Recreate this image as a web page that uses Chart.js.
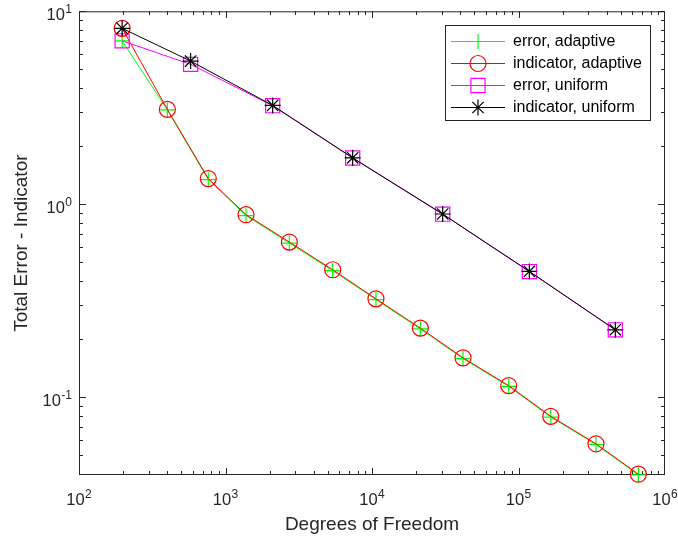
<!DOCTYPE html>
<html>
<head>
<meta charset="utf-8">
<script src="https://cdn.jsdelivr.net/npm/chart.js@4/dist/chart.umd.min.js"></script>
<style>
  body { margin: 0; background: #fff; }
  #wrap { width: 678px; height: 542px; }
</style>
</head>
<body>
<div id="wrap"><canvas id="errChart" width="678" height="542"></canvas></div>
<script>
// valores (log-log)
const dofAdaptive = [197, 401, 763, 1380, 2728, 5392, 10640, 21380, 41800, 85700, 166000, 338000, 658000];
const errorAdaptive = [7.03, 3.08, 1.34, 0.872, 0.628, 0.452, 0.320, 0.2255, 0.1582, 0.1136, 0.0787, 0.0567, 0.0395];
const indicatorAdaptive = [8.16, 3.10, 1.357, 0.882, 0.636, 0.457, 0.323, 0.2276, 0.1596, 0.1146, 0.0794, 0.0572, 0.0398];
const dofUniform = [197, 578, 2099, 7380, 30380, 118600, 458000];
const errorUniform = [7.03, 5.31, 3.24, 1.735, 0.887, 0.447, 0.223];
const indicatorUniform = [8.16, 5.52, 3.25, 1.738, 0.889, 0.448, 0.223];
const xExponents = [2, 3, 4, 5, 6];
const yExponents = [-1, 0, 1];

(function () {
    const FONT = '"Liberation Sans", Arial, Helvetica, sans-serif';
    const AXIS = '#262626';

    function pts(xs, ys) {
        return xs.map(function (x, i) { return { x: x, y: ys[i] }; });
    }

    function series(label, xs, ys, color, style, radius, order) {
        return {
            label: label,
            data: pts(xs, ys),
            showLine: true,
            borderColor: color,
            borderWidth: 1,
            pointStyle: style,
            pointRadius: radius,
            pointBorderColor: color,
            pointBackgroundColor: 'rgba(0,0,0,0)',
            pointBorderWidth: 1.2,
            tension: 0,
            clip: false,
            order: order
        };
    }

    // escreve 10^n com expoente elevado
    function drawPow(ctx, exp, x, y, align) {
        const base = '10', sup = String(exp);
        ctx.font = '16.5px ' + FONT;
        const wb = ctx.measureText(base).width;
        ctx.font = '12px ' + FONT;
        const ws = ctx.measureText(sup).width;
        const total = wb + ws + 0.5;
        let start = align === 'right' ? x - total : x - total / 2;
        ctx.fillStyle = AXIS;
        ctx.textAlign = 'left';
        ctx.textBaseline = 'alphabetic';
        ctx.font = '16.5px ' + FONT;
        ctx.fillText(base, start, y);
        ctx.font = '12px ' + FONT;
        ctx.fillText(sup, start + wb + 0.5, y - 7);
    }

    // marcas maiores e menores para dentro, nos quatro lados
    function drawTicks(chart) {
        const ctx = chart.ctx, a = chart.chartArea;
        const xs = chart.scales.x, ys = chart.scales.y;
        const L = Math.round(a.left), R = Math.round(a.right) - 1;
        const T = Math.round(a.top), B = Math.round(a.bottom) - 1;
        ctx.save();
        ctx.fillStyle = AXIS;
        for (let d = 2; d <= 6; d++) {
            for (let k = 1; k <= 9; k++) {
                const v = k * Math.pow(10, d);
                if (v < 100 || v > 1e6) continue;
                const px = Math.min(R, Math.round(xs.getPixelForValue(v)));
                const len = k === 1 ? 7 : 4;
                ctx.fillRect(px, B - len + 1, 1, len);
                ctx.fillRect(px, T, 1, len);
            }
        }
        for (let d = -2; d <= 1; d++) {
            for (let k = 1; k <= 9; k++) {
                const v = k * Math.pow(10, d);
                if (v < 0.0394 || v > 10) continue;
                const py = Math.min(B, Math.round(ys.getPixelForValue(v)));
                const len = k === 1 ? 7 : 4;
                ctx.fillRect(L, py, len, 1);
                ctx.fillRect(R - len + 1, py, len, 1);
            }
        }
        ctx.restore();
    }

    const axesPlugin = {
        id: 'matlabAxes',
        beforeDatasetsDraw: function (chart) {
            const ctx = chart.ctx, a = chart.chartArea;
            const xs = chart.scales.x, ys = chart.scales.y;
            ctx.save();
            ctx.strokeStyle = AXIS;
            ctx.lineWidth = 1;
            ctx.strokeRect(a.left + 0.5, a.top + 0.5, a.right - a.left - 1, a.bottom - a.top - 1);
            ctx.restore();
            drawTicks(chart);
            ctx.save();
            xExponents.forEach(function (e) {
                drawPow(ctx, e, xs.getPixelForValue(Math.pow(10, e)), 505, 'center');
            });
            yExponents.forEach(function (e) {
                drawPow(ctx, e, 72, ys.getPixelForValue(Math.pow(10, e)) + 9, 'right');
            });
            ctx.restore();
        },
        afterDraw: function (chart) {
            // legenda dentro da área, canto superior direito
            const ctx = chart.ctx;
            const sets = chart.data.datasets;
            const box = { x: 445.5, y: 25.5, w: 205, h: 95 };
            ctx.save();
            ctx.fillStyle = '#fff';
            ctx.fillRect(box.x, box.y, box.w, box.h);
            ctx.strokeStyle = AXIS;
            ctx.lineWidth = 1;
            ctx.strokeRect(box.x, box.y, box.w, box.h);
            sets.forEach(function (ds, i) {
                const cy = 41 + i * 22;
                ctx.strokeStyle = ds.borderColor;
                ctx.lineWidth = 1;
                ctx.beginPath();
                ctx.moveTo(451, cy + 0.5); ctx.lineTo(505, cy + 0.5);
                ctx.stroke();
                ctx.fillStyle = 'rgba(0,0,0,0)';
                ctx.lineWidth = 1.2;
                if (Chart.helpers && Chart.helpers.drawPoint) {
                    Chart.helpers.drawPoint(ctx, { pointStyle: ds.pointStyle, radius: ds.pointRadius, rotation: 0, borderWidth: 1.2 }, 478, cy + 0.5);
                }
                ctx.fillStyle = '#000';
                ctx.font = '16px ' + FONT;
                ctx.textAlign = 'left';
                ctx.textBaseline = 'middle';
                ctx.fillText(ds.label, 513, cy + 1);
            });
            ctx.restore();
        }
    };

    const el = document.getElementById('errChart');
    window._errChart = new Chart(el.getContext('2d'), {
        type: 'scatter',
        data: {
            datasets: [
                series('error, adaptive', dofAdaptive, errorAdaptive, '#00ff00', 'cross', 7.5, 4),
                series('indicator, adaptive', dofAdaptive, indicatorAdaptive, '#ff0000', 'circle', 8, 3),
                series('error, uniform', dofUniform, errorUniform, '#ff00ff', 'rect', 10, 2),
                series('indicator, uniform', dofUniform, indicatorUniform, '#000000', 'star', 8, 1)
            ]
        },
        options: {
            responsive: false,
            animation: false,
            events: [],
            layout: { padding: { top: 11.3, right: 13, left: 0, bottom: 0 } },
            plugins: { legend: { display: false }, tooltip: { enabled: false } },
            scales: {
                x: {
                    type: 'logarithmic', min: 100, max: 1e6,
                    grid: { display: false }, border: { display: false },
                    ticks: { display: false },
                    title: { display: true, text: 'Degrees of Freedom', color: AXIS, font: { family: FONT, size: 19 }, padding: { top: 0, bottom: 5.6 } },
                    afterFit: function (s) { s.height = 67; }
                },
                y: {
                    type: 'logarithmic', min: 0.0394, max: 10,
                    grid: { display: false }, border: { display: false },
                    ticks: { display: false },
                    title: { display: true, text: 'Total Error - Indicator', color: AXIS, font: { family: FONT, size: 19 }, padding: { top: 10.3, bottom: 0 } },
                    afterFit: function (s) { s.width = 79; }
                }
            }
        },
        plugins: [axesPlugin]
    });
})();
</script>
</body>
</html>
